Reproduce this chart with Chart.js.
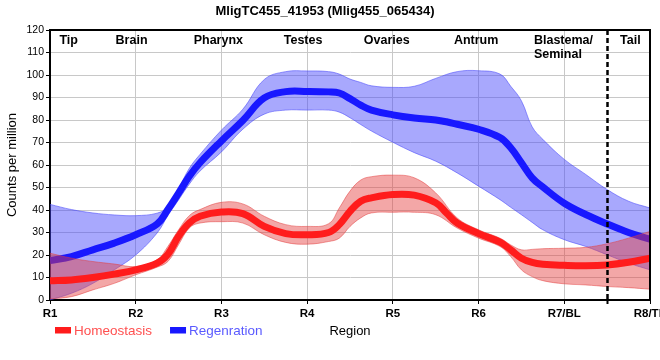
<!DOCTYPE html>
<html><head><meta charset="utf-8">
<script src="https://cdn.jsdelivr.net/npm/chart.js@4"></script>
<style>html,body{margin:0;padding:0;background:#fff}#wrap{width:660px;height:360px}</style>
</head><body><div id="wrap"><canvas id="c" width="660" height="360"></canvas></div>
<script>
const chartTitle = 'MligTC455_41953 (Mlig455_065434)';
const regionTicks = ['R1','R2','R3','R4','R5','R6','R7/BL','R8/TP'];
const anatomyLabels = ['Tip','Brain','Pharynx','Testes','Ovaries','Antrum',['Blastema/','Seminal'],'Tail'];
const anatomyAt = [1.11,1.765,2.676,3.727,4.661,5.712,6.646,7.65];
const dividerAt = 7.5;
const seriesNames = ['Homeostasis','Regenration'];

const lineX = [1,1.25,1.5,1.75,2,2.25,2.375,2.5,2.625,2.75,3,3.25,3.5,3.75,4,4.25,4.375,4.5,4.625,4.75,5,5.25,5.5,5.625,5.75,6,6.25,6.375,6.5,6.625,6.75,7,7.25,7.5,7.75,8];
const homeostasisMean = [8.5,8.9,10,11.5,13.4,16.4,20.3,28.3,34.2,37.2,39.1,38.4,32.7,29.5,29,30,33.5,39.4,43.9,45.4,46.9,46.6,43.2,38.7,34.2,29.5,25.7,22.3,18.6,16.7,15.9,15.4,15.2,15.6,16.8,18.6];
const regenerationMean = [17.5,19.3,22.3,25.3,29,33.8,40.2,47.5,55,61,70.7,79.8,89.8,92.6,92.7,92.5,92,89.5,86.6,84.4,82.3,80.9,80,79.2,78.1,75.9,72.2,67.7,61,54.3,50.2,43,38,33.8,30,27];

const bandX = [1,1.25,1.5,1.75,2,2.25,2.375,2.5,2.625,2.75,3,3.25,3.5,3.75,4,4.25,4.375,4.5,4.625,4.75,5,5.25,5.5,5.75,6,6.25,6.375,6.5,6.625,6.75,7,7.25,7.5,7.75,8];
const homeostasisHigh = [20.8,18.6,17.1,16,14.9,17.9,23.8,31.2,37.5,40.2,43.4,42.7,37.2,33.5,32.7,33.9,40.9,48.4,53.3,54.8,55.5,54.3,47.6,36.5,31.2,27.5,24.5,22.3,22.5,22.8,23,23.4,25,27.5,30.5];
const homeostasisLow = [0.5,1.5,4.5,7.4,11.2,14.6,17.1,24.6,32,34.2,34.8,34.2,29,25.6,24.8,26,27.5,32.7,36.5,38.7,39,39,37.9,32,27.5,23.8,19.3,13.4,10.4,8.6,7.2,6.7,6,5.5,4.8];
const regenerationHigh = [42.5,40.2,38.7,37.8,37.5,38.6,41.4,49.5,58.5,64.7,75.5,84.8,98,101.5,101.8,101.5,100.4,98.2,96.7,95.2,94.5,95,98.5,101.5,101.9,100.4,95,88.5,77,71.4,62.5,55.8,49.1,43.9,40.9];
const regenerationLow = [0,3,7.4,13.4,20,29.8,37.5,44.5,51.5,57.3,65.8,75.9,82.6,84.4,84.4,84.4,83.5,81,78,75.1,70.1,65.5,61.7,56.5,50.6,44.6,41.2,37.9,34.5,31.2,26.8,23.8,20.1,16.4,13.4];

const pts = (xs, ys) => xs.map((x, i) => ({x, y: ys[i]}));

const FONT = '"Liberation Sans", Arial, sans-serif';
const RED = 'rgb(255,28,28)', BLUE = 'rgb(24,24,255)';
const RED_BAND = 'rgba(228,60,60,0.45)', BLUE_BAND = 'rgba(70,70,250,0.47)';

const overlay = {
  id: 'overlay',
  afterDraw(chart) {
    const {ctx, chartArea: a, scales: {x}} = chart;
    ctx.save();
    ctx.strokeStyle = '#000'; ctx.lineWidth = 2; ctx.setLineDash([]);
    ctx.beginPath(); ctx.moveTo(a.left, a.top); ctx.lineTo(a.right, a.top); ctx.lineTo(a.right, a.bottom); ctx.stroke();
    const dx = Math.round(x.getPixelForValue(dividerAt)) + 0.5;
    ctx.lineWidth = 2.5; ctx.setLineDash([5, 3]);
    ctx.beginPath(); ctx.moveTo(dx, a.top); ctx.lineTo(dx, a.bottom); ctx.stroke();
    ctx.setLineDash([]); ctx.lineWidth = 2;
    ctx.beginPath(); ctx.moveTo(dx, a.bottom); ctx.lineTo(dx, a.bottom + 4); ctx.stroke();
    ctx.fillStyle = '#000';
    ctx.font = 'bold 12.5px ' + FONT;
    ctx.textAlign = 'left'; ctx.textBaseline = 'middle';
    anatomyLabels.forEach((lab, i) => {
      const px = x.getPixelForValue(anatomyAt[i]);
      const lines = Array.isArray(lab) ? lab : [lab];
      lines.forEach((t, j) => ctx.fillText(t, px, a.top + 10.5 + j * 14));
    });
    const colors = [[RED, 'rgb(255,80,80)'], [BLUE, 'rgb(90,90,255)']];
    ctx.font = '13.5px ' + FONT;
    let lx = 55;
    seriesNames.forEach((name, i) => {
      ctx.fillStyle = colors[i][0];
      ctx.fillRect(lx, 327, 16, 6.5);
      ctx.fillStyle = colors[i][1];
      ctx.fillText(name, lx + 19, 331);
      lx += 19 + ctx.measureText(name).width + 18;
    });
    ctx.restore();
  }
};

new Chart(document.getElementById('c'), {
  type: 'line',
  data: {
    datasets: [
      {label: seriesNames[0], data: pts(lineX, homeostasisMean), borderColor: RED, borderWidth: 7, pointRadius: 0, fill: false, order: 0},
      {label: 'hH', data: pts(bandX, homeostasisHigh), borderColor: 'rgba(228,60,60,0.5)', borderWidth: 1, backgroundColor: RED_BAND, pointRadius: 0, fill: '+1', order: 1},
      {label: 'hL', data: pts(bandX, homeostasisLow), borderColor: 'rgba(228,60,60,0.5)', borderWidth: 1, pointRadius: 0, fill: false, order: 2},
      {label: seriesNames[1], data: pts(lineX, regenerationMean), borderColor: BLUE, borderWidth: 7, pointRadius: 0, fill: false, order: 3},
      {label: 'rH', data: pts(bandX, regenerationHigh), borderColor: 'rgba(70,70,250,0.55)', borderWidth: 1, backgroundColor: BLUE_BAND, pointRadius: 0, fill: '+1', order: 4},
      {label: 'rL', data: pts(bandX, regenerationLow), borderColor: 'rgba(70,70,250,0.55)', borderWidth: 1, pointRadius: 0, fill: false, order: 5}
    ]
  },
  options: {
    responsive: false, animation: false, devicePixelRatio: 1,
    elements: {line: {tension: 0.4, capBezierPoints: true, borderCapStyle: 'butt'}},
    layout: {padding: {left: 0, right: 10, top: 0, bottom: 0}},
    plugins: {
      legend: {display: false},
      tooltip: {enabled: false},
      title: {display: true, text: chartTitle, color: '#000',
        font: {family: FONT, size: 13, weight: 'bold'},
        padding: {top: 3.5, bottom: 10.9}}
    },
    scales: {
      x: {
        type: 'linear', min: 1, max: 8,
        ticks: {stepSize: 1, autoSkip: false, maxRotation: 0, padding: 3, color: '#000',
          font: {family: FONT, size: 11.5, weight: 'bold'},
          callback: v => regionTicks[v - 1] ?? ''},
        grid: {color: '#c8c8c8', tickColor: '#000', tickLength: 4, lineWidth: 1},
        border: {color: '#000', width: 2},
        title: {display: true, text: 'Region', color: '#000',
          font: {family: FONT, size: 13}, padding: {top: 0, bottom: 21}},
        afterFit: s => { s.height = 60; s.paddingLeft = 0; s.paddingRight = 0; }
      },
      y: {
        min: 0, max: 120,
        ticks: {stepSize: 10, padding: 2, color: '#000', font: {family: FONT, size: 10.5}},
        grid: {color: '#c8c8c8', tickColor: '#000', tickLength: 4, lineWidth: 1},
        border: {color: '#000', width: 2},
        title: {display: true, text: 'Counts per million', color: '#000',
          font: {family: FONT, size: 13}, padding: {top: 5, bottom: 0}},
        afterFit: s => { s.width = 50; }
      }
    }
  },
  plugins: [overlay]
});
</script></body></html>
